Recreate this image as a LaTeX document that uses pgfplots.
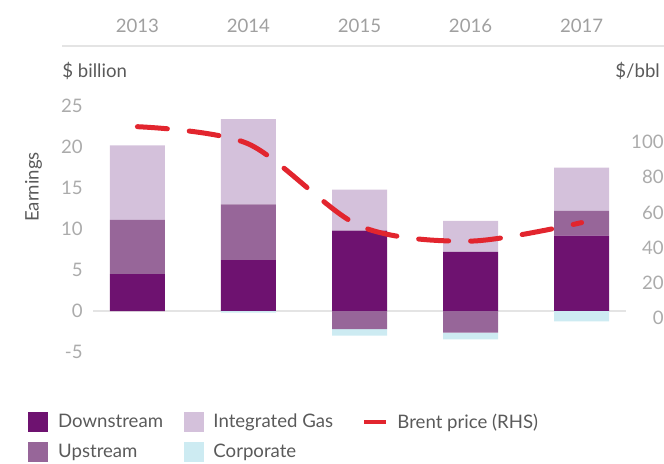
\documentclass[border=0pt]{standalone}
\usepackage{pgfplots}
\pgfplotsset{compat=1.18}
\usepackage{fontspec}
\setmainfont{Lato}
\definecolor{down}{HTML}{6E1270}
\definecolor{up}{HTML}{976699}
\definecolor{ig}{HTML}{D4C1DB}
\definecolor{corp}{HTML}{CDEBF2}
\definecolor{brent}{HTML}{E2252E}
\definecolor{ticklab}{HTML}{ABABAB}
\definecolor{yearlab}{HTML}{A0A0A0}
\definecolor{txt}{HTML}{5A5A5A}
\definecolor{zero}{HTML}{E4E4E4}
\newcommand{\fs}{\fontsize{9.3}{11}\selectfont}
\begin{document}
\begin{tikzpicture}
\useasboundingbox (0,0) rectangle (332pt,231.5pt);
\pgfplotsset{
  base/.style={
    scale only axis, width=266.5pt, height=123pt,
    at={(46.5pt,55.5pt)}, anchor=south west,
    xmin=-0.4, xmax=4.4, ymin=-5, ymax=25,
    axis line style={draw=none}, major tick length=0pt,
    clip=false,
    /pgf/number format/assume math mode=true,
  },
  barbase/.style={base, ybar stacked, bar width=27.5pt},
}
% positive stack + left axis + year labels
\begin{axis}[barbase,
  ytick={-5,0,5,10,15,20,25},
  yticklabels={-5,0,5,10,15,20,25},
  yticklabel style={anchor=east, inner sep=0pt, xshift=-5pt, font=\fs, text=ticklab},
  xtick={0,1,2,3,4}, xticklabels={2013,2014,2015,2016,2017},
  xticklabel pos=right,
  xticklabel style={anchor=center, inner sep=0pt, yshift=40pt, font=\fs, text=yearlab},
  extra y ticks={0}, extra y tick labels={},
  extra y tick style={grid=major, major grid style={draw=zero, line width=1pt}},
]
\addplot[fill=down, draw=none, forget plot] coordinates {(0,4.5) (1,6.2) (2,9.8) (3,7.2) (4,9.2)};
\addplot[fill=up, draw=none, forget plot] coordinates {(0,6.6) (1,6.8) (2,0) (3,0) (4,3.0)};
\addplot[fill=ig, draw=none, forget plot] coordinates {(0,9.1) (1,10.4) (2,5.0) (3,3.8) (4,5.3)};
\end{axis}
% negative stack
\begin{axis}[barbase, hide axis]
\addplot[fill=up, draw=none, forget plot] coordinates {(0,0) (1,0) (2,-2.2) (3,-2.65) (4,0)};
\addplot[fill=corp, draw=none, forget plot] coordinates {(0,0) (1,-0.2) (2,-0.8) (3,-0.8) (4,-1.25)};
\end{axis}
% Brent price, right axis, legend
\begin{axis}[base, ymin=-19.32, ymax=120.45,
  axis x line=none, axis y line*=right,
  ytick={0,20,40,60,80,100},
  yticklabel style={anchor=east, inner sep=0pt, xshift=19pt, font=\fs, text=ticklab},
  legend columns=3,
  legend cell align=left,
  legend style={draw=none, fill=none, at={(-0.122,-0.244)}, anchor=north west,
    inner sep=0pt, font=\fs, text=txt, row sep=5pt,
    nodes={inner sep=0pt}},
]
\addplot[brent, line width=2.5pt, dash pattern=on 15pt off 11pt, line cap=round, smooth, forget plot]
  coordinates {(0,108.7) (1,98.9) (2,52.4) (3,43.7) (4,54.2)};
\addlegendimage{legend image code/.code={\fill[down] (0pt,-4.75pt) rectangle (9.5pt,4.75pt);}}
\addlegendentry{\makebox[67.75pt][l]{\hspace{5pt}Downstream}}
\addlegendimage{legend image code/.code={\fill[ig] (0pt,-4.75pt) rectangle (9.5pt,4.75pt);}}
\addlegendentry{\makebox[79.5pt][l]{\hspace{5pt}Integrated Gas}}
\addlegendimage{legend image code/.code={\draw[brent, line width=2pt] (0pt,0pt) -- (11pt,0pt);}}
\addlegendentry{\hspace{4.5pt}Brent price (RHS)}
\addlegendimage{legend image code/.code={\fill[up] (0pt,-4.75pt) rectangle (9.5pt,4.75pt);}}
\addlegendentry{\hspace{5pt}Upstream}
\addlegendimage{legend image code/.code={\fill[corp] (0pt,-4.75pt) rectangle (9.5pt,4.75pt);}}
\addlegendentry{\hspace{5pt}Corporate}
\end{axis}
% header texts
\draw[draw=zero, line width=1pt] (31pt,208.5pt) -- (332pt,208.5pt);
\node[anchor=west, inner sep=0pt, font=\fs, text=txt] at (31pt,196pt) {\$ billion};
\node[anchor=west, inner sep=0pt, font=\fs, text=txt] at (307.5pt,196pt) {\$/bbl};
\node[rotate=90, inner sep=0pt, font=\fs, text=txt] at (16.8pt,138pt) {Earnings};
\end{tikzpicture}
\end{document}
